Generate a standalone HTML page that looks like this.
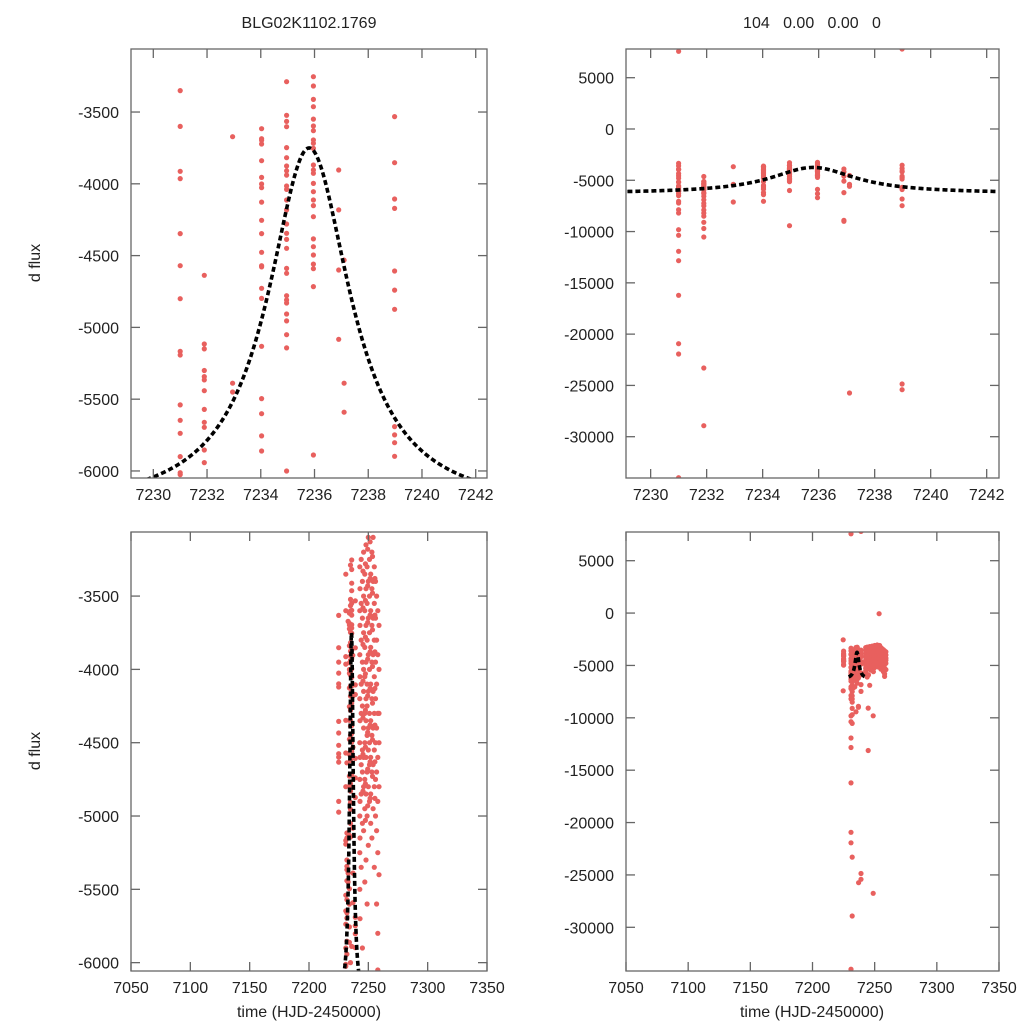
<!DOCTYPE html>
<html><head><meta charset="utf-8"><style>
html,body{margin:0;padding:0;background:#fff;width:1024px;height:1024px;overflow:hidden;}
svg{display:block;font-family:"Liberation Sans",Arial,sans-serif;}
</style></head><body>
<svg id="chart" width="1024" height="1024" viewBox="0 0 1024 1024" xmlns="http://www.w3.org/2000/svg">
<rect width="1024" height="1024" fill="#fff"/>
<text x="309" y="28" font-size="16" text-anchor="middle" fill="#222">BLG02K1102.1769</text>
<text x="812" y="28" font-size="16" text-anchor="middle" fill="#222" xml:space="preserve">104   0.00   0.00   0</text>
<text transform="translate(40,263) rotate(-90)" font-size="16" text-anchor="middle" fill="#222">d flux</text>
<text transform="translate(40,751) rotate(-90)" font-size="16" text-anchor="middle" fill="#222">d flux</text>
<text x="309" y="1017" font-size="16" text-anchor="middle" fill="#222">time (HJD-2450000)</text>
<text x="812" y="1017" font-size="16" text-anchor="middle" fill="#222">time (HJD-2450000)</text>
</svg>
<script>
// ---- data: observation groups (time, fluxes) ----
const groupTimes = [7231.0, 7231.9, 7232.95, 7234.03, 7234.96, 7235.96, 7236.9, 7237.1, 7238.98, 7225.0, 7224.7, 7244.8, 7248.8, 7253.6,
  7242.8, 7243, 7244, 7245, 7246, 7247, 7248, 7249, 7250, 7251, 7252, 7253, 7254, 7255, 7256, 7257, 7258, 7259,
  7245.5, 7247.5, 7249.5, 7251.5, 7253.5, 7255.5];
const groupFluxes = [
  [-3351,-3913,-3964,-4347,-4570,-5167,-5192,-5540,-5647,-5738,-6012,-6025,7572,-16217,-11927,-12837,-9815,-10367,-20930,-21937,-34000,-7052,-7865,-8190,-7215,-6300,-6500,-5900,-6100,-3600,-4800],
  [-4637,-5116,-5150,-5343,-5366,-5441,-5571,-5661,-5696,-5854,-5942,-23302,-28925,-6565,-6900,-7250,-7500,-7900,-8200,-8500,-9100,-9700,-10530,-6300,-6200,-5300],
  [-3672,-5389,-5450,-7117],
  [-3616,-3686,-3697,-3723,-3839,-3955,-4001,-4027,-4127,-4254,-4347,-4477,-4570,-4579,-4728,-4798,-5132,-5496,-5601,-5756,-5861,-7052,-6200,-6400],
  [-3289,-3523,-3565,-3602,-3748,-3818,-3876,-3909,-3939,-4015,-4039,-4113,-4182,-4280,-4345,-4387,-4449,-4589,-4623,-4779,-4809,-4830,-4907,-4955,-5051,-5143,-9425,-6000],
  [-3254,-3319,-3412,-3463,-3549,-3597,-3630,-3695,-3718,-3753,-3869,-3904,-3927,-3997,-4055,-4113,-4152,-4229,-4384,-4438,-4496,-4559,-4591,-4716,-5889,-6305,-6700],
  [-3904,-4182,-4600,-5083,-8905,-9000,-6200],
  [-4531,-5389,-5591,-25740],
  [-3532,-3853,-4106,-4171,-4607,-4740,-4874,-5691,-5749,-5803,-5898,-25415,-24863,-6825,-7475,7800],
  [-3632,-3852,-3950,-4025,-4098,-4120,-4355,-4434,-4518,-4575,-4598,-4632,-4900,-4973],
  [-2548,-7420],
  [-9077,-13122],
  [-9810,-26750],
  [-64],
  [-3300,-3600,-3900,-4200,-4500,-4750,-5000,-5250,-5500],
  [-3450,-3700,-4050,-4350,-4600,-4900,-5150,-5700],
  [-3250,-3550,-3800,-4100,-4300,-4650,-4850,-5350,-6100],
  [-3400,-3650,-3950,-4250,-4550,-4700,-5050,-5900],
  [-3200,-3500,-3750,-4000,-4150,-4400,-4600,-4800,-5100,-6900],
  [-3350,-3600,-3850,-4050,-4300,-4500,-4750,-4950,-5450],
  [-3150,-3450,-3700,-3950,-4200,-4350,-4600,-4850,-5300],
  [-3300,-3550,-3800,-4100,-4250,-4450,-4700,-5000,-5600],
  [-3100,-3400,-3650,-3900,-4150,-4400,-4550,-4800,-5200],
  [-3250,-3500,-3750,-4000,-4300,-4500,-4650,-4900],
  [-3050,-3350,-3600,-3850,-4100,-4350,-4600,-4850,-5050],
  [-3200,-3450,-3700,-3950,-4200,-4450,-4700,-5150],
  [-3100,-3400,-3650,-3900,-4150,-4400,-4650,-4950],
  [-3300,-3550,-3800,-4050,-4300,-4550,-4800,-5350],
  [-3400,-3650,-3950,-4200,-4500,-4750,-5000],
  [-3500,-3800,-4100,-4400,-4700,-5100,-5600],
  [-3600,-3900,-4300,-4600,-4900,-5250,-5800,-6050],
  [-3700,-4000,-4300,-4500,-4800,-5400],
  [-3330,-3580,-3830,-4080,-4330,-4580,-4830],
  [-3280,-3530,-3780,-4030,-4280,-4530,-4780,-5030],
  [-3180,-3430,-3680,-3930,-4180,-4430,-4680,-4930],
  [-3130,-3380,-3630,-3880,-4130,-4380,-4630,-4880],
  [-3230,-3480,-3730,-3980,-4230,-4480,-4730],
  [-3380,-3630,-3880,-4130,-4380,-4630,-4880]
];
// model (point-lens-like peak)
const modelT0 = 7235.8, modelBase = -6280, modelAmp = 2530, modelWidth = 1.87;
const modelStart = 7229.17, modelEnd = 7242.4;
// tick labels
const zoomTimeTicks = [7230,7232,7234,7236,7238,7240,7242];
const wideTimeTicks = [7050,7100,7150,7200,7250,7300,7350];
const narrowFluxTicks = [-3500,-4000,-4500,-5000,-5500,-6000];
const wideFluxTicks = [5000,0,-5000,-10000,-15000,-20000,-25000,-30000];

const NS = 'http://www.w3.org/2000/svg';
const svg = document.getElementById('chart');
function mk(tag, attrs, parent){
  const e = document.createElementNS(NS, tag);
  for (const k in attrs) e.setAttribute(k, attrs[k]);
  (parent || svg).appendChild(e);
  return e;
}
const panels = [
  {name:'top-left', px0:131, px1:487, py0:49, py1:478, tx:[7229.17,7242.42], fy:[-3061,-6049], xt:zoomTimeTicks, yt:narrowFluxTicks},
  {name:'top-right', px0:626, px1:999, py0:49, py1:478, tx:[7229.12,7242.44], fy:[7798,-34026], xt:zoomTimeTicks, yt:wideFluxTicks},
  {name:'bottom-left', px0:131, px1:487, py0:532, py1:971, tx:[7050,7350], fy:[-3063,-6057], xt:wideTimeTicks, yt:narrowFluxTicks},
  {name:'bottom-right', px0:626, px1:999, py0:532, py1:971, tx:[7050,7350], fy:[7740,-34172], xt:wideTimeTicks, yt:wideFluxTicks}
];
panels.forEach((p, pi) => {
  const xs = t => p.px0 + (t - p.tx[0]) / (p.tx[1] - p.tx[0]) * (p.px1 - p.px0);
  const ys = f => p.py0 + (p.fy[0] - f) / (p.fy[0] - p.fy[1]) * (p.py1 - p.py0);
  const g = mk('g', {});
  
  
  const defs = mk('defs', {}, g);
  const cp = mk('clipPath', {id:'clip' + pi}, defs);
  mk('rect', {x:p.px0, y:p.py0, width:p.px1 - p.px0, height:p.py1 - p.py0}, cp);
  const pts = mk('g', {'clip-path':'url(#clip' + pi + ')', fill:'#e8605e'}, g);
  
  
  groupTimes.forEach((t, gi) => {
    groupFluxes[gi].forEach(f => {
      const c = mk('circle', {cx:xs(t).toFixed(1), cy:ys(f).toFixed(1), r:2.6}, pts);
      
      
    });
  });
  let d = '';
  for (let t = modelStart; t <= modelEnd + 1e-9; t += 0.04) {
    const u = (t - modelT0) / modelWidth;
    const f = modelBase + modelAmp / (1 + u * u);
    d += (d ? 'L' : 'M') + xs(t).toFixed(2) + ',' + ys(f).toFixed(2);
  }
  const line = mk('path', {d:d, fill:'none', stroke:'#000', 'stroke-width':3.6, 'stroke-dasharray':'5 3', 'clip-path':'url(#clip' + pi + ')'}, g);
  
  
  const ax = mk('g', {stroke:'#666', 'stroke-width':1.3, fill:'none'}, g);
  
  
  mk('rect', {x:p.px0, y:p.py0, width:p.px1 - p.px0, height:p.py1 - p.py0}, ax);
  p.xt.forEach(t => {
    const x = xs(t);
    mk('line', {x1:x, x2:x, y1:p.py1, y2:p.py1 - 9}, ax);
    mk('line', {x1:x, x2:x, y1:p.py0, y2:p.py0 + 9}, ax);
    const lb = mk('text', {x:x, y:p.py1 + 22, 'font-size':16, 'text-anchor':'middle', fill:'#222'}, g);
    
    
    lb.textContent = t;
  });
  p.yt.forEach(f => {
    const y = ys(f);
    mk('line', {x1:p.px0, x2:p.px0 + 9, y1:y, y2:y}, ax);
    mk('line', {x1:p.px1, x2:p.px1 - 9, y1:y, y2:y}, ax);
    const lb = mk('text', {x:p.px0 - 12, y:y + 6, 'font-size':16, 'text-anchor':'end', fill:'#222'}, g);
    
    
    lb.textContent = f;
  });
});
</script>
</body></html>
